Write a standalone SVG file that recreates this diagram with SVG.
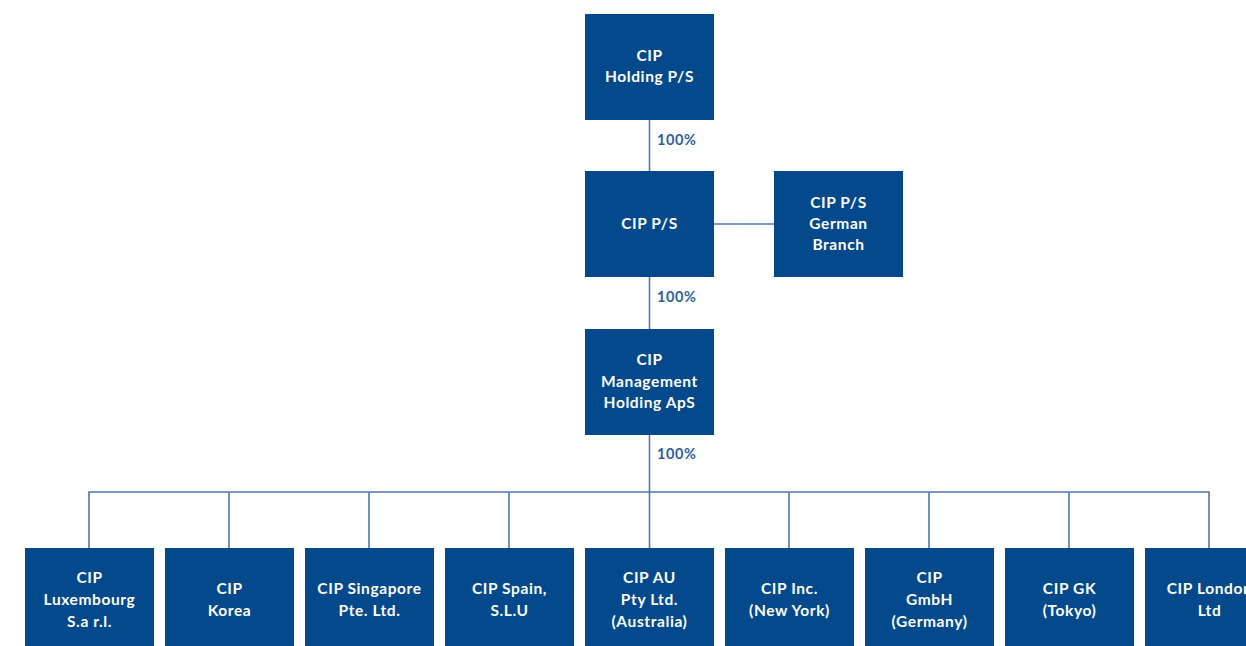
<svg xmlns="http://www.w3.org/2000/svg" width="1246" height="646" viewBox="0 0 1246 646">
<style>
.box{fill:#03498b}
.t{font-family:Lato,"Noto Sans",sans-serif;font-weight:bold;font-size:15.5px;letter-spacing:0.6px;fill:#ffffff;text-anchor:middle}
.p{font-family:Lato,"Noto Sans",sans-serif;font-weight:bold;font-size:14.5px;letter-spacing:0.6px;fill:#2e5f9b}
.c{stroke:#4f7bab;stroke-width:1.6;fill:none}
</style>
<rect width="1246" height="646" fill="#ffffff"/>
<g id="connectors">
<path class="c" d="M649.5 120V171M649.5 277V329M714 224H774M649.5 435V548M89 548V492H1209V548M229 492V548M369 492V548M509 492V548M789 492V548M929 492V548M1069 492V548"/>
<text class="p" x="657" y="145">100%</text>
<text class="p" x="657" y="302">100%</text>
<text class="p" x="657" y="459">100%</text>
</g>
<g id="n-holding"><rect class="box" x="585" y="14" width="129" height="106"/><text class="t" x="649.5" y="61">CIP</text><text class="t" x="649.5" y="82">Holding P/S</text></g>
<g id="n-cipps"><rect class="box" x="585" y="171" width="129" height="106"/><text class="t" x="649.5" y="229">CIP P/S</text></g>
<g id="n-german"><rect class="box" x="774" y="171" width="129" height="106"/><text class="t" x="838.5" y="208">CIP P/S</text><text class="t" x="838.5" y="229">German</text><text class="t" x="838.5" y="250">Branch</text></g>
<g id="n-mgmt"><rect class="box" x="585" y="329" width="129" height="106"/><text class="t" x="649.5" y="365">CIP</text><text class="t" x="649.5" y="387">Management</text><text class="t" x="649.5" y="408">Holding ApS</text></g>
<g id="n-lux"><rect class="box" x="25" y="548" width="129" height="106"/><text class="t" x="89.5" y="583">CIP</text><text class="t" x="89.5" y="605">Luxembourg</text><text class="t" x="89.5" y="627">S.a r.l.</text></g>
<g id="n-korea"><rect class="box" x="165" y="548" width="129" height="106"/><text class="t" x="229.5" y="594">CIP</text><text class="t" x="229.5" y="616">Korea</text></g>
<g id="n-sg"><rect class="box" x="305" y="548" width="129" height="106"/><text class="t" x="369.5" y="594">CIP Singapore</text><text class="t" x="369.5" y="616">Pte. Ltd.</text></g>
<g id="n-spain"><rect class="box" x="445" y="548" width="129" height="106"/><text class="t" x="509.5" y="594">CIP Spain,</text><text class="t" x="509.5" y="616">S.L.U</text></g>
<g id="n-au"><rect class="box" x="585" y="548" width="129" height="106"/><text class="t" x="649.5" y="583">CIP AU</text><text class="t" x="649.5" y="605">Pty Ltd.</text><text class="t" x="649.5" y="627">(Australia)</text></g>
<g id="n-ny"><rect class="box" x="725" y="548" width="129" height="106"/><text class="t" x="789.5" y="594">CIP Inc.</text><text class="t" x="789.5" y="616">(New York)</text></g>
<g id="n-gmbh"><rect class="box" x="865" y="548" width="129" height="106"/><text class="t" x="929.5" y="583">CIP</text><text class="t" x="929.5" y="605">GmbH</text><text class="t" x="929.5" y="627">(Germany)</text></g>
<g id="n-gk"><rect class="box" x="1005" y="548" width="129" height="106"/><text class="t" x="1069.5" y="594">CIP GK</text><text class="t" x="1069.5" y="616">(Tokyo)</text></g>
<g id="n-london"><rect class="box" x="1145" y="548" width="129" height="106"/><text class="t" x="1209.5" y="594">CIP London</text><text class="t" x="1209.5" y="616">Ltd</text></g>
</svg>
